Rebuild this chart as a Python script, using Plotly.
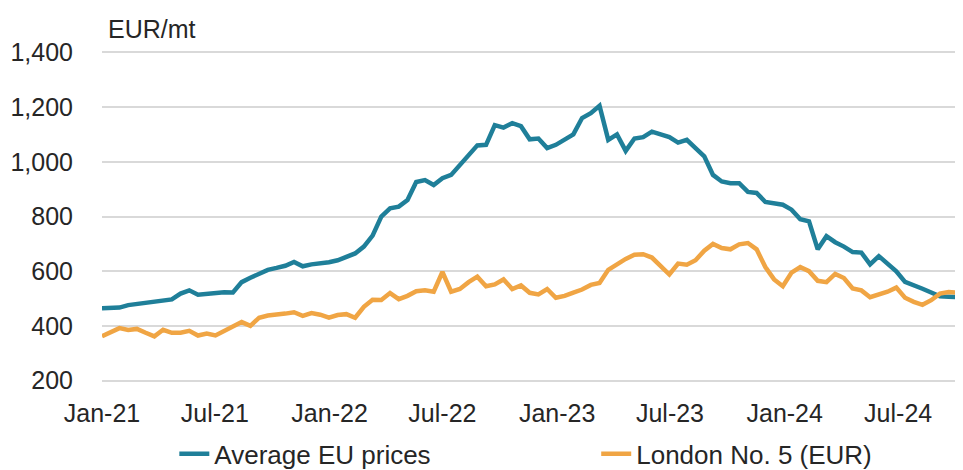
import pandas as pd
import plotly.graph_objects as go

# Bi-weekly observation dates
dates = pd.date_range("2021-01-01", periods=99, freq="14D")

avg_eu = [
    465, 465, 467, 476, 480, 485, 487, 490, 497, 518,
    530, 514, 518, 522, 523, 522, 560, 576, 590, 605,
    612, 620, 634, 618, 625, 628, 633, 640, 652, 665,
    690, 730, 800, 830, 836, 860, 926, 933, 915, 940,
    952, 990, 1022, 1060, 1062, 1134, 1125, 1141, 1130, 1082,
    1085, 1050, 1062, 1080, 1100, 1160, 1178, 1205, 1080, 1100,
    1040, 1085, 1090, 1110, 1098, 1090, 1070, 1080, 1050, 1020,
    952, 928, 922, 922, 890, 886, 853, 850, 843, 825,
    790, 782, 680, 728, 706, 690, 670, 668, 625, 655,
    628, 600, 561, 550, 536, 522, 508, 507, 505,
]

london5 = [
    362, 378, 392, 385, 389, 375, 362, 386, 375, 375,
    382, 365, 372, 365, 381, 395, 414, 400, 430, 438,
    440, 445, 450, 437, 447, 441, 430, 440, 443, 430,
    470, 496, 495, 520, 498, 510, 527, 530, 525, 597,
    525, 535, 560, 580, 545, 552, 570, 535, 548, 521,
    515, 535, 503, 510, 522, 533, 550, 557, 605, 627,
    645, 660, 662, 650, 620, 588, 628, 624, 640, 675,
    700, 685, 680, 698, 703, 680, 615, 570, 545, 595,
    615, 600, 565, 560, 590, 575, 537, 530, 505, 515,
    525, 540, 503, 488, 477, 494, 518, 524, 521,
]

tick_dates = ["2021-01-01", "2021-07-01", "2022-01-01", "2022-07-01",
              "2023-01-01", "2023-07-01", "2024-01-01", "2024-07-01"]
tick_labels = ["Jan-21", "Jul-21", "Jan-22", "Jul-22",
               "Jan-23", "Jul-23", "Jan-24", "Jul-24"]
y_ticks = [200, 400, 600, 800, 1000, 1200, 1400]

BLUE = "#1F7F99"
ORANGE = "#F0A544"
FONT = "Liberation Sans, Arial, sans-serif"
TXT = "#262626"

fig = go.Figure()
fig.add_trace(go.Scatter(x=dates, y=avg_eu, mode="lines", name="Average EU prices",
                         line=dict(color=BLUE, width=4.5), legend="legend"))
fig.add_trace(go.Scatter(x=dates, y=london5, mode="lines", name="London No. 5 (EUR)",
                         line=dict(color=ORANGE, width=4.5), legend="legend2"))

fig.update_layout(
    width=955, height=462,
    margin=dict(l=94, r=0, t=43, b=88, autoexpand=False),
    paper_bgcolor="white", plot_bgcolor="white",
    font=dict(family=FONT, size=25, color=TXT),
    showlegend=True,
    legend=dict(orientation="h", x=0.084, y=0.035, xanchor="left", yanchor="middle",
                yref="container",
                font=dict(size=26, color=TXT), bgcolor="rgba(0,0,0,0)"),
    legend2=dict(orientation="h", x=0.574, y=0.035, xanchor="left", yanchor="middle",
                 yref="container",
                 font=dict(size=26, color=TXT), bgcolor="rgba(0,0,0,0)"),
    xaxis=dict(range=["2021-01-01", "2024-10-13"], tickvals=tick_dates, ticktext=tick_labels,
               showgrid=False, zeroline=False, showline=False, ticks="", automargin=False,
               ticklabelstandoff=14, tickfont=dict(size=25, color=TXT)),
    yaxis=dict(range=[195, 1405], tickvals=y_ticks, tickformat=",d",
               showgrid=True, gridcolor="#D9D9D9", gridwidth=1.5, automargin=False,
               zeroline=False, showline=False, ticks="",
               ticklabelstandoff=28, tickfont=dict(size=25, color=TXT)),
    annotations=[dict(text="EUR/mt", xref="paper", yref="paper", x=0.005, y=1.018,
                      xanchor="left", yanchor="bottom", showarrow=False,
                      font=dict(size=25, color=TXT))],
)

fig.write_html("out.html")
